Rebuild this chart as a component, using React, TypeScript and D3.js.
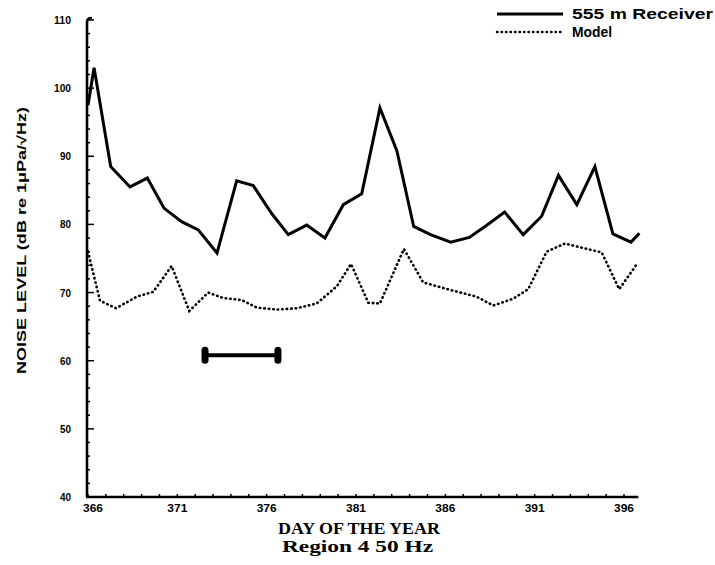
import React from "react";
import * as d3 from "d3";

// 555 m Receiver (solid)
const receiverDays = [366.0, 366.34, 367.27, 368.35, 369.32, 370.25, 371.24, 372.17, 373.22, 374.32, 375.25, 376.28, 377.21, 378.24, 379.26, 380.29, 381.32, 382.34, 383.29, 384.23, 385.17, 386.3, 387.34, 388.28, 389.32, 390.36, 391.39, 392.33, 393.36, 394.37, 395.38, 396.39, 396.86];
const receiverLevels = [97.5, 103.0, 88.5, 85.5, 86.8, 82.4, 80.4, 79.2, 75.8, 86.4, 85.7, 81.6, 78.5, 79.9, 78.0, 82.9, 84.5, 97.1, 90.8, 79.7, 78.5, 77.4, 78.1, 79.8, 81.8, 78.5, 81.2, 87.2, 82.9, 88.5, 78.6, 77.4, 78.7];

// Model (dotted)
const modelDays = [366.0, 366.67, 367.57, 368.73, 369.65, 370.68, 371.67, 372.73, 373.57, 374.6, 375.44, 376.56, 377.68, 378.8, 379.92, 380.72, 381.69, 382.34, 383.68, 384.76, 386.26, 387.75, 388.68, 389.8, 390.64, 391.67, 392.69, 394.09, 394.75, 395.73, 396.67];
const modelLevels = [76.0, 68.8, 67.7, 69.4, 70.1, 73.9, 67.3, 70.0, 69.2, 68.9, 67.8, 67.5, 67.7, 68.4, 70.9, 74.2, 68.5, 68.4, 76.4, 71.5, 70.4, 69.4, 68.1, 69.1, 70.5, 76.0, 77.2, 76.3, 75.9, 70.5, 74.0];

// Scale bar annotation
const barDays = [372.55, 376.63];
const barLevel = 60.8;

const yTicks = [40, 50, 60, 70, 80, 90, 100, 110];
const xTickDays = [366, 371, 376, 381, 386, 391, 396];
const seriesNames = ["555 m Receiver", "Model"];

export default function App() {
  const W = 715, H = 565;
  const x = d3.scaleLinear().domain([366, 396]).range([88, 624]);
  const y = d3.scaleLinear().domain([40, 110]).range([497, 20]);
  const xEnd = x(396.8);

  const line = d3.line<[number, number]>().x(d => x(d[0])).y(d => y(d[1]));
  const recPts = receiverDays.map((d, i) => [d, receiverLevels[i]] as [number, number]);
  const modPts = modelDays.map((d, i) => [d, modelLevels[i]] as [number, number]);

  const dailyTicks = d3.range(366, 397);
  const minorY = d3.range(40, 111, 2);

  const sans = "'Liberation Sans', Arial, sans-serif";
  const serif = "'Liberation Serif', 'Times New Roman', serif";

  return (
    <svg width={W} height={H} style={{ position: "absolute", left: 0, top: 0, background: "#fff" }}>
      <rect x={0} y={0} width={W} height={H} fill="#fff" />
      {/* axes */}
      <path d={`M${x(366) - 1},${y(40)} L${x(366) - 1},${y(110) + 2} Q${x(366) - 1},${y(110) - 2} ${x(366) + 4},${y(110) - 2}`} fill="none" stroke="#000" strokeWidth={2.6} />
      <line x1={x(366) - 2} x2={xEnd} y1={y(40)} y2={y(40)} stroke="#000" strokeWidth={2.6} />
      {/* y ticks */}
      {minorY.map(v => (
        <line key={"my" + v} x1={x(366) - 1} x2={x(366) + (v % 10 === 0 ? 6 : 2)} y1={y(v)} y2={y(v)} stroke="#000" strokeWidth={1.5} />
      ))}
      {yTicks.map(v => (
        <text key={"yl" + v} x={71} y={y(v) + 4} textAnchor="end" fontFamily={sans} fontWeight="900" fontSize={10.5}
          textLength={v >= 100 ? 17 : 11} lengthAdjust="spacingAndGlyphs">{v}</text>
      ))}
      {/* x ticks */}
      {dailyTicks.map(d => (
        <line key={"xt" + d} x1={x(d)} x2={x(d)} y1={y(40)} y2={y(40) - 3} stroke="#000" strokeWidth={1.5} />
      ))}
      {xTickDays.map((d, i) => (
        <text key={"xl" + d} x={x(d) + (i === 0 ? 5 : 0) - 10} y={512} fontFamily={sans} fontWeight="900" fontSize={10.5}
          textLength={20} lengthAdjust="spacingAndGlyphs">{d}</text>
      ))}
      {/* series */}
      <path d={line(recPts) || ""} fill="none" stroke="#000" strokeWidth={3} strokeLinejoin="miter" />
      <path d={line(modPts) || ""} fill="none" stroke="#000" strokeWidth={2.6} strokeDasharray="0.5 4" strokeLinecap="round" />
      {/* scale bar */}
      <g stroke="#000">
        <line x1={x(barDays[0])} x2={x(barDays[1])} y1={y(barLevel)} y2={y(barLevel)} strokeWidth={4} />
        {barDays.map((d, i) => (
          <line key={"bc" + i} x1={x(d)} x2={x(d)} y1={y(barLevel) - 5} y2={y(barLevel) + 5} strokeWidth={7} strokeLinecap="round" />
        ))}
      </g>
      {/* legend */}
      <line x1={497} x2={563} y1={14} y2={14} stroke="#000" strokeWidth={3} />
      <text x={572} y={19} fontFamily={sans} fontWeight="bold" fontSize={14} textLength={141} lengthAdjust="spacingAndGlyphs">{seriesNames[0]}</text>
      <line x1={497} x2={563} y1={32} y2={32} stroke="#000" strokeWidth={2.4} strokeDasharray="0.5 4" strokeLinecap="round" />
      <text x={572} y={37} fontFamily={sans} fontWeight="bold" fontSize={14} textLength={40} lengthAdjust="spacingAndGlyphs">{seriesNames[1]}</text>
      {/* axis titles */}
      <text transform={`translate(26,${(107 + 374) / 2}) rotate(-90)`} textAnchor="middle" fontFamily={sans} fontWeight="bold" fontSize={12.5}
        textLength={267} lengthAdjust="spacingAndGlyphs">NOISE LEVEL (dB re 1μPa/√Hz)</text>
      <text x={359} y={534} textAnchor="middle" fontFamily={serif} fontWeight="bold" fontSize={16}
        textLength={162} lengthAdjust="spacingAndGlyphs">DAY OF THE YEAR</text>
      <text x={357.5} y={552} textAnchor="middle" fontFamily={serif} fontWeight="bold" fontSize={17}
        textLength={151} lengthAdjust="spacingAndGlyphs">Region 4 50 Hz</text>
    </svg>
  );
}
